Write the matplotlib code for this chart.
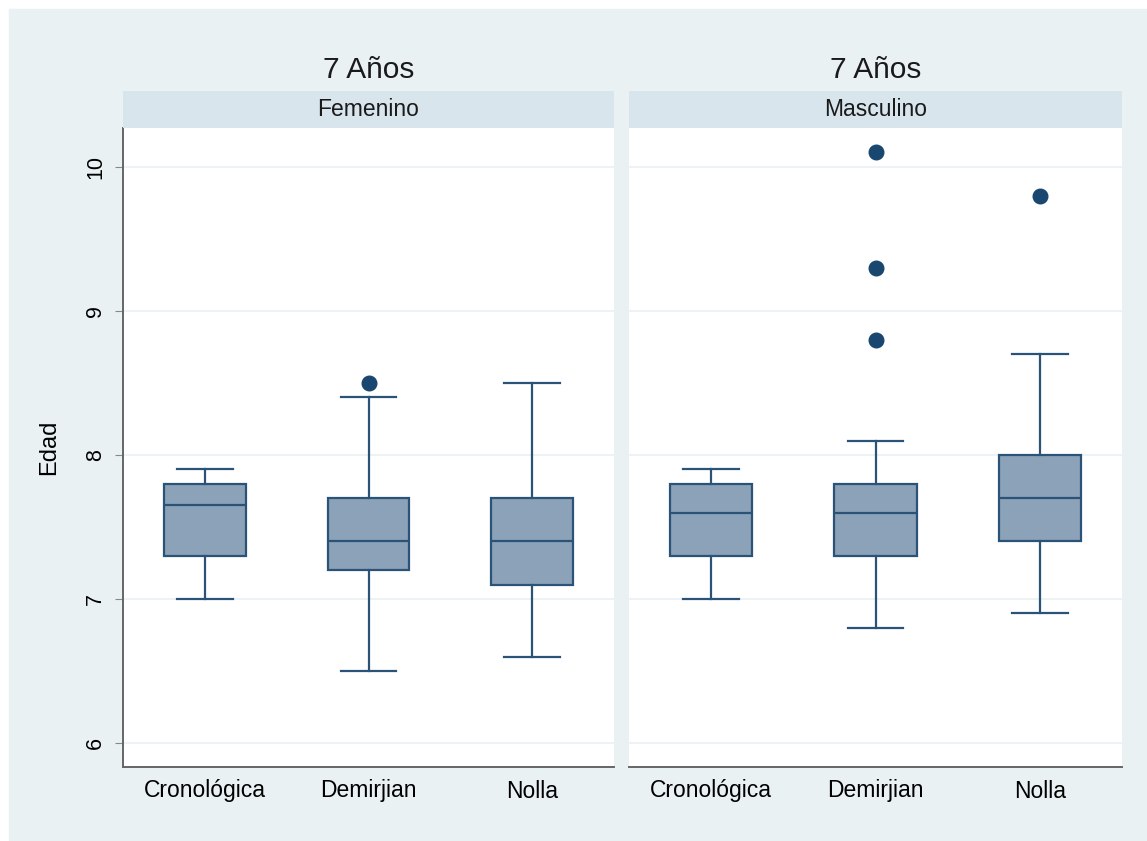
import matplotlib.pyplot as plt
from matplotlib.patches import Rectangle

plt.rcParams['font.family'] = ['Liberation Sans', 'DejaVu Sans']

metodos = ['Cronológica', 'Demirjian', 'Nolla']
sexos = ['Femenino', 'Masculino']

# whisker low, q1, median, q3, whisker high
fem_low = [7.0, 6.5, 6.6]
fem_q1 = [7.3, 7.2, 7.1]
fem_med = [7.65, 7.4, 7.4]
fem_q3 = [7.8, 7.7, 7.7]
fem_high = [7.9, 8.4, 8.5]
fem_out = [[], [8.5], []]

mas_low = [7.0, 6.8, 6.9]
mas_q1 = [7.3, 7.3, 7.4]
mas_med = [7.6, 7.6, 7.7]
mas_q3 = [7.8, 7.8, 8.0]
mas_high = [7.9, 8.1, 8.7]
mas_out = [[], [8.8, 9.3, 10.1], [9.8]]

yticks = [6, 7, 8, 9, 10]

bg = '#EAF1F3'
strip = '#D9E5EC'
edge = '#2B5277'
face = '#8CA2B8'
dot = '#1A476F'


def stats(low, q1, med, q3, high, out):
    res = []
    for i in range(len(low)):
        res.append(dict(whislo=low[i], q1=q1[i], med=med[i], q3=q3[i],
                        whishi=high[i], fliers=out[i]))
    return res


fig = plt.figure(figsize=(11.47, 8.41), dpi=100)
fig.patch.set_facecolor('white')
fig.patches.append(Rectangle((9 / 1147, 0), 1 - 9 / 1147, 1 - 9 / 841,
                             transform=fig.transFigure, color=bg, zorder=-10))

W, H = 1147, 841
panels = [(123, 614), (629, 1122)]
top, bottom = 128, 767
data = [stats(fem_low, fem_q1, fem_med, fem_q3, fem_high, fem_out),
        stats(mas_low, mas_q1, mas_med, mas_q3, mas_high, mas_out)]

for k, (x0, x1) in enumerate(panels):
    ax = fig.add_axes([x0 / W, 1 - bottom / H, (x1 - x0) / W, (bottom - top) / H])
    ax.bxp(data[k], positions=[1, 2, 3], widths=0.5, patch_artist=True,
           showfliers=True,
           boxprops=dict(facecolor=face, edgecolor=edge, linewidth=1.6),
           medianprops=dict(color=edge, linewidth=1.6),
           whiskerprops=dict(color=edge, linewidth=1.6),
           capprops=dict(color=edge, linewidth=1.6),
           capwidths=0.34,
           flierprops=dict(marker='o', markerfacecolor=dot, markeredgecolor=dot,
                           markersize=10.5))
    ax.set_xlim(0.5, 3.5)
    ax.set_ylim(5.833, 10.27)
    ax.set_yticks(yticks)
    ax.set_xticks([1, 2, 3])
    ax.set_xticklabels(metodos, fontsize=16.5)
    ax.tick_params(axis='x', length=0, pad=9)
    ax.grid(axis='y', color=bg, linewidth=1.2)
    ax.set_axisbelow(True)
    for s in ['top', 'right']:
        ax.spines[s].set_visible(False)
    ax.spines['bottom'].set_color('#666666')
    ax.spines['bottom'].set_linewidth(1.4)
    if k == 0:
        ax.spines['left'].set_color('#666666')
        ax.spines['left'].set_linewidth(1.4)
        ax.tick_params(axis='y', length=6, color='#888888', labelsize=15.5, pad=6)
        for lab in ax.get_yticklabels():
            lab.set_rotation(90)
            lab.set_va('center')
        ax.set_ylabel('Edad', fontsize=17, labelpad=18)
    else:
        ax.spines['left'].set_visible(False)
        ax.tick_params(axis='y', length=0, labelleft=False)

    # strip and title
    sax = fig.add_axes([x0 / W, 1 - top / H, (x1 - x0) / W, 37 / H])
    sax.set_facecolor(strip)
    sax.set_xticks([])
    sax.set_yticks([])
    for s in sax.spines.values():
        s.set_visible(False)
    sax.text(0.5, 0.5, sexos[k], ha='center', va='center', fontsize=16.5,
             transform=sax.transAxes, color='#1a1a1a')
    fig.text((x0 + x1) / 2 / W, 1 - 70 / H, '7 Años', ha='center', va='center',
             fontsize=21.5, color='#1a1a1a')

fig.savefig('out.png', dpi=100, facecolor=fig.get_facecolor())
